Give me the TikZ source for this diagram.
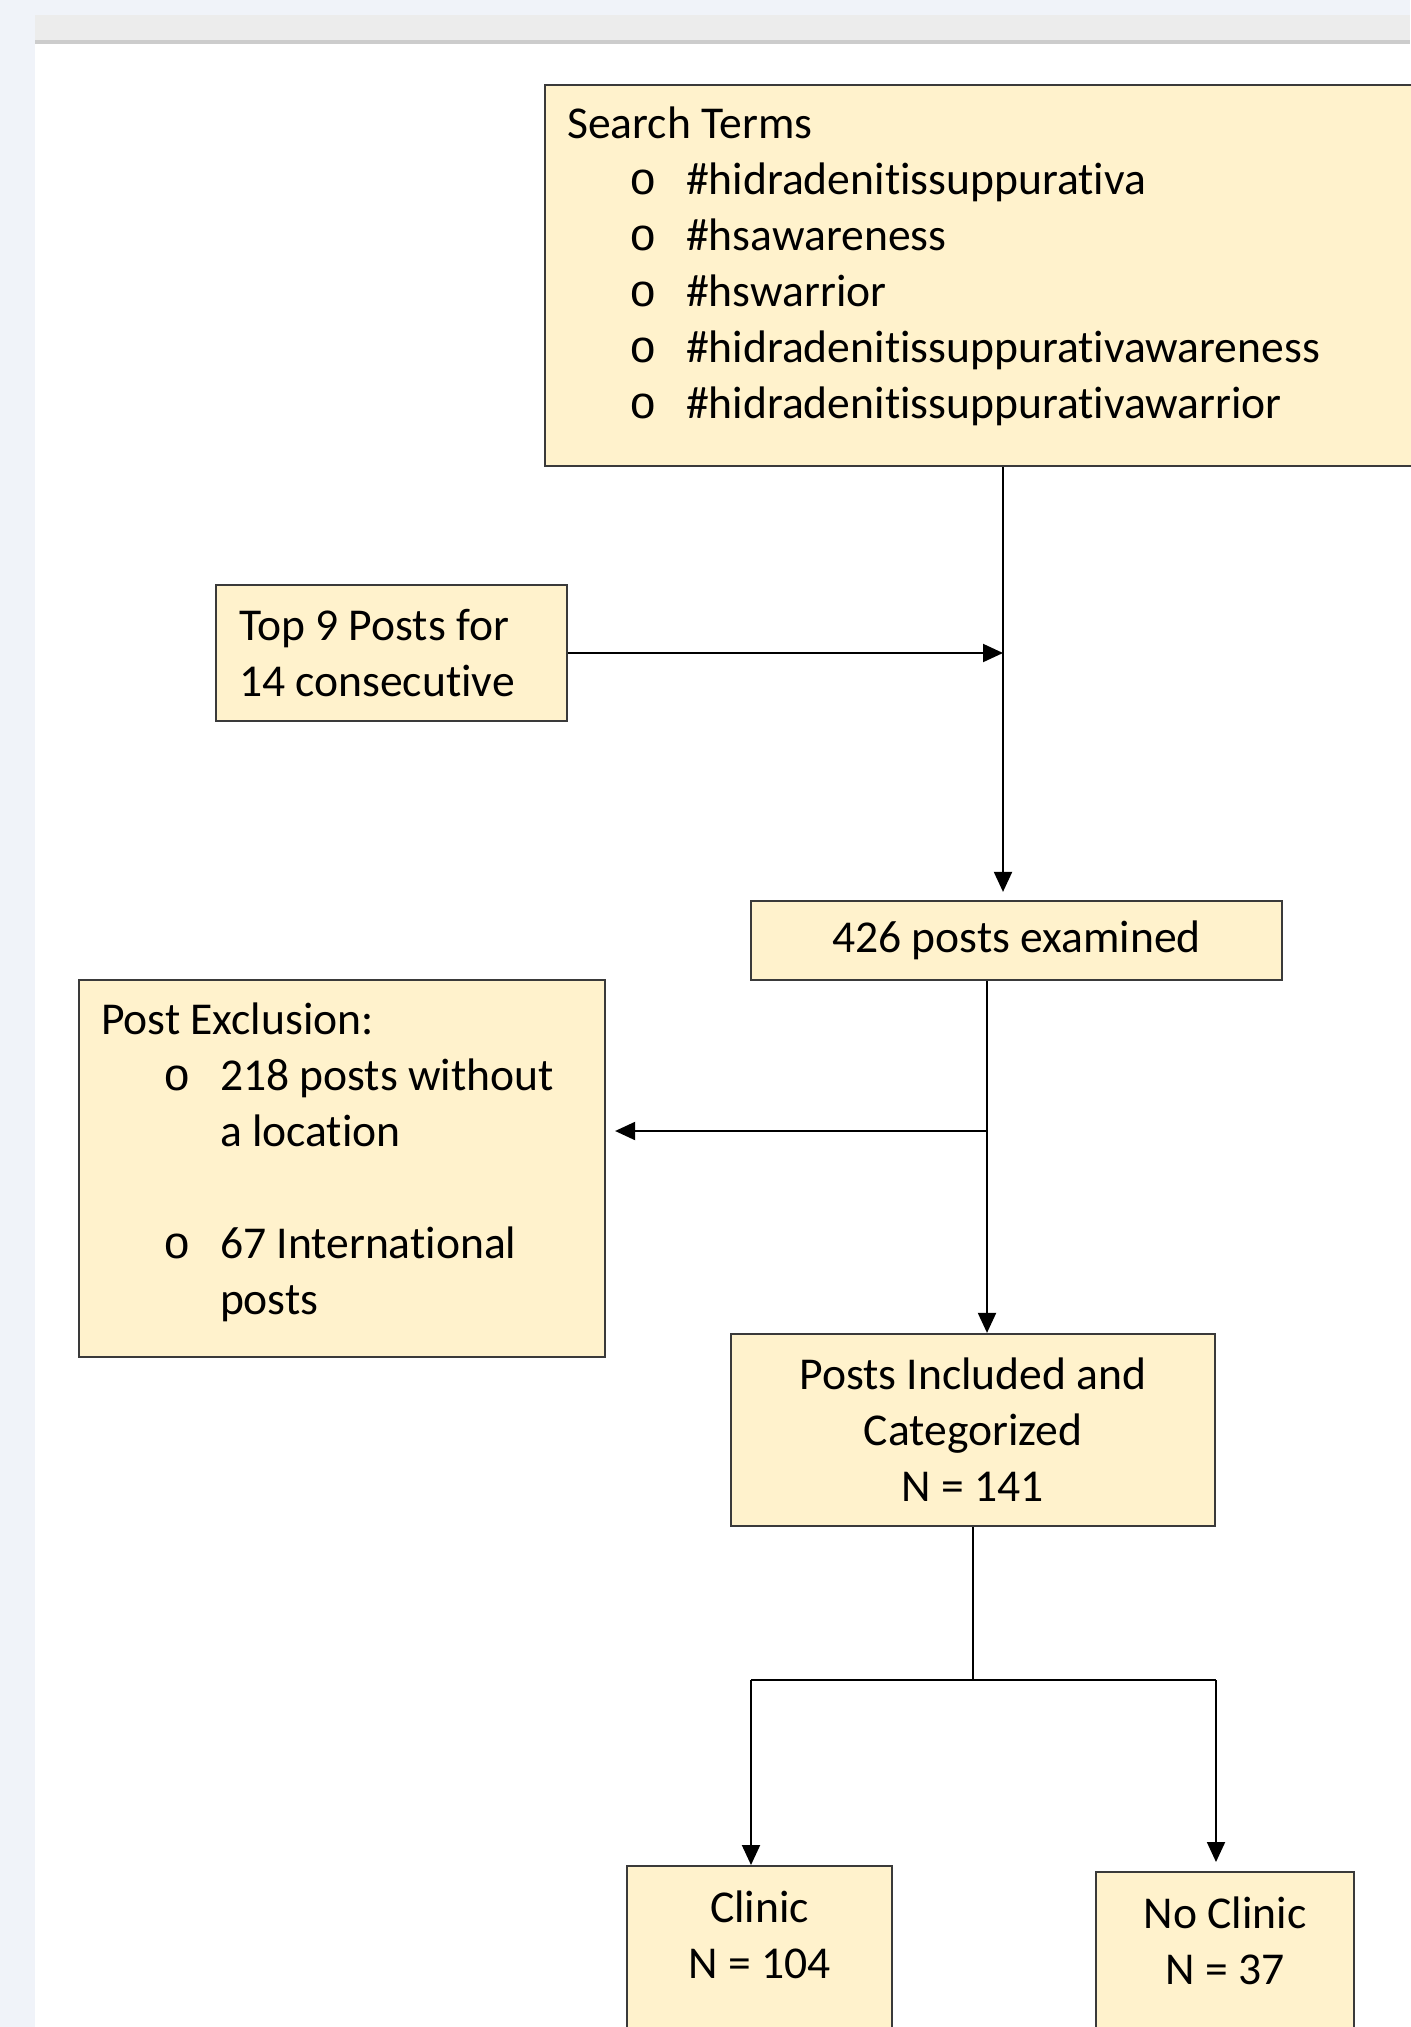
\documentclass[tikz,border=0pt]{standalone}
\usepackage{fontspec}
\setmainfont{Carlito}[Ligatures={NoCommon}]
\newfontfamily\bulletfont{Liberation Mono}
\usepackage{xcolor}
\definecolor{boxfill}{RGB}{255,242,204}
\definecolor{boxline}{RGB}{58,58,58}
\definecolor{pagebg}{RGB}{240,243,249}
\definecolor{barfill}{RGB}{236,236,236}
\definecolor{barline}{RGB}{204,204,204}
\usepackage{tikz}
\usetikzlibrary{
  arrows.meta,
  positioning
}
\newcommand{\bul}{\hspace*{31pt}\makebox[28.5pt][l]{\bulletfont o}}
\newcommand{\ind}{\hspace*{59.5pt}}

\begin{document}
\begin{tikzpicture}[
  x=0.5pt, y=-0.5pt,
  pbox/.style={
    draw=boxline, line width=1.1pt,
    fill=boxfill,
    font=\fontsize{22.8}{28}\selectfont,
    inner sep=0pt
  },
  arrow/.style={
    -{Triangle[length=10pt, width=9pt]},
    line width=1pt, draw=black
  }
]
\useasboundingbox (0,0) rectangle (1410,2027);
\fill[pagebg] (0,0) rectangle (1410,2027);
\fill[barfill] (35,15) rectangle (1410,40);
\fill[barline] (35,40) rectangle (1410,44);
\fill[white] (35,44) rectangle (1410,2027);

\node[pbox, anchor=north west, minimum height=190.5pt, text width=414pt,
  inner xsep=11pt, text depth=153pt, align=flush left] (terms) at (544,84)
  {Search Terms\\
   \bul\#hidradenitissuppurativa\\
   \bul\#hsawareness\\
   \bul\#hswarrior\\
   \bul\#hidradenitissuppurativawareness\\
   \bul\#hidradenitissuppurativawarrior};
\node[pbox, minimum height=68pt, text width=152.5pt, inner xsep=11.5pt,
  align=flush left] (top9) at (391.5,653) {Top 9 Posts for\\14 consecutive};
\node[pbox, minimum width=265.5pt, minimum height=39.5pt] (examined)
  at (1016.5,940.5) {426 posts examined};
\node[pbox, minimum height=188.5pt, text width=241pt, inner xsep=11pt,
  text depth=150pt, align=flush left] (exclusion) at (342,1168.5)
  {Post Exclusion:\\
   \bul 218 posts without\\
   \ind a location\\[28pt]
   \bul 67 International\\
   \ind posts};
\node[pbox, minimum width=242pt, minimum height=96pt, align=flush center]
  (included) at (973,1430) {Posts Included and\\Categorized\\N = 141};
\node[pbox, anchor=north, text width=132.5pt, align=flush center,
  inner ysep=12pt, text height=16pt, text depth=80pt] (clinic)
  at (759.5,1865) {Clinic\\N = 104};
\node[pbox, anchor=north, text width=129pt, align=flush center,
  inner ysep=12pt, text height=16pt, text depth=80pt] (noclinic)
  at (1225,1871) {No Clinic\\N = 37};

\coordinate (j1) at (1003,651);
\coordinate (j2) at (987,1131);
\coordinate (split) at (973,1680);
\coordinate (sl) at (751,1680);
\coordinate (sr) at (1216,1680);

\draw[arrow, shorten >=4pt] (terms.south -| j1) -- (examined.north -| j1);
\draw[arrow] (top9.east) -- (top9.east -| j1);
\draw[arrow] (examined.south -| j2) -- (included.north -| j2);
\draw[arrow, shorten >=4.5pt] (j2) -- (exclusion.east |- j2);
\draw[line width=1pt] (included.south) -- (split);
\draw[line width=1pt] (sl) -- (sr);
\draw[arrow] (sl) -- (clinic.north -| sl);
\draw[arrow, shorten >=4.5pt] (sr) -- (noclinic.north -| sr);
\end{tikzpicture}
\end{document}
